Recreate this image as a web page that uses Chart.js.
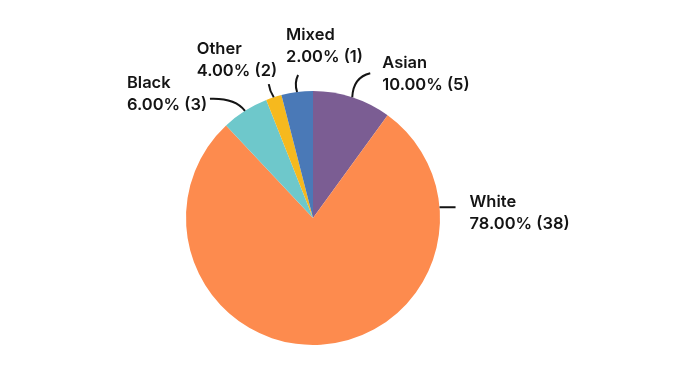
<!DOCTYPE html>
<html>
<head>
<meta charset="utf-8">
<script src="https://cdn.jsdelivr.net/npm/chart.js@4"></script>
<style>
  html, body { margin: 0; padding: 0; background: #fff; }
  #wrap { width: 700px; height: 377px; position: relative; }
</style>
</head>
<body>
<div id="wrap"><canvas id="grafico"></canvas></div>
<script>
// slices clockwise from 12 o'clock
const categories = ["Asian", "White", "Black", "Other", "Mixed"];
// share of the circle each slice takes in the picture (%)
const sliceShares = [10, 78, 6, 2, 4];
// numbers printed in the labels
const labelPercents = [10, 78, 6, 4, 2];
const labelCounts = [5, 38, 3, 2, 1];
const sliceColors = ["#7b5d93", "#fd8b4e", "#6ec8cb", "#f6b91e", "#4a79b7"];

// where each label sits relative to the edge of its slice
const labelLayout = [
  { at: 0.5,  end: [18, -24], ctrl: [1, -20], text: [12, -10] },
  { at: 0.175, end: [16, 0],  ctrl: [8, 0],   text: [14, -5] },
  { at: 0.5,  end: [-35, -12], ctrl: [-10, -13], text: [-83, -16] },
  { at: 0.5,  end: [-5, -13], ctrl: [-4, -6], text: [-72, -35] },
  { at: 0.5,  end: [1, -17],  ctrl: [-3, -9], text: [-12, -40] }
];

const pieLabels = {
  id: "pieLabels",
  afterDatasetsDraw(chart) {
    const ctx = chart.ctx;
    const arcs = chart.getDatasetMeta(0).data;
    ctx.save();
    ctx.font = "600 16.5px Inter";
    ctx.fillStyle = "#141414";
    ctx.strokeStyle = "#141414";
    ctx.lineWidth = 2;
    ctx.textAlign = "left";
    ctx.textBaseline = "middle";
    arcs.forEach((arc, i) => {
      const { x, y, startAngle, endAngle, outerRadius } = arc.getProps(["x", "y", "startAngle", "endAngle", "outerRadius"], true);
      const lay = labelLayout[i];
      const a = startAngle + (endAngle - startAngle) * lay.at;
      const px = x + Math.cos(a) * outerRadius;
      const py = y + Math.sin(a) * outerRadius;
      const ex = px + lay.end[0], ey = py + lay.end[1];
      ctx.beginPath();
      ctx.moveTo(px, py);
      ctx.quadraticCurveTo(px + lay.ctrl[0], py + lay.ctrl[1], ex, ey);
      ctx.stroke();
      const tx = ex + lay.text[0], ty = ey + lay.text[1];
      ctx.fillText(categories[i], tx, ty);
      ctx.fillText(labelPercents[i].toFixed(2) + "% (" + labelCounts[i] + ")", tx, ty + 22);
    });
    ctx.restore();
  }
};

new Chart(document.getElementById("grafico"), {
  type: "pie",
  data: {
    labels: categories,
    datasets: [{
      data: sliceShares,
      backgroundColor: sliceColors,
      borderWidth: 0
    }]
  },
  options: {
    responsive: true,
    maintainAspectRatio: false,
    animation: false,
    events: [],
    layout: { padding: { top: 91, bottom: 32, left: 186, right: 260 } },
    plugins: {
      legend: { display: false },
      tooltip: { enabled: false }
    }
  },
  plugins: [pieLabels]
});
</script>
</body>
</html>
